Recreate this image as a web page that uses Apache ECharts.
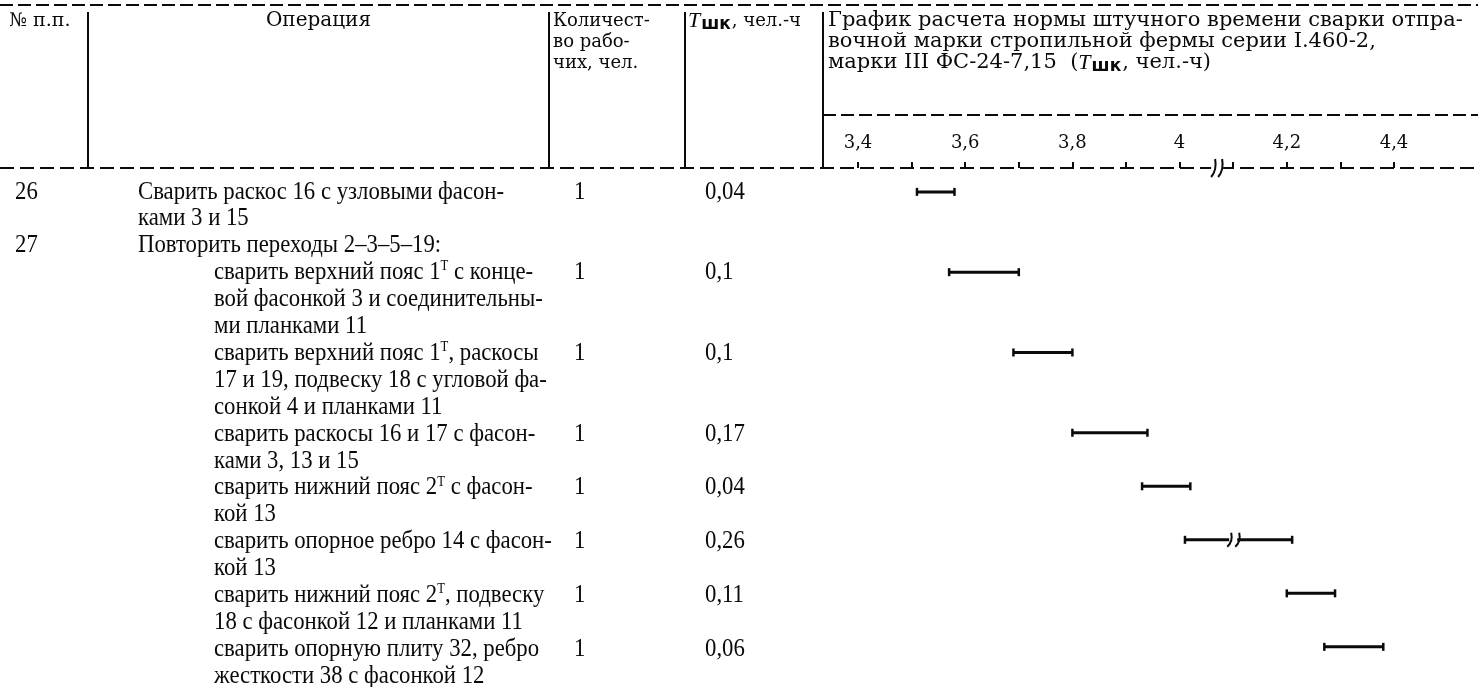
<!DOCTYPE html>
<html>
<head>
<meta charset="utf-8">
<style>
	html, body { margin: 0; padding: 0; background: #fff; }
	#chart { width: 1478px; height: 687px; }
</style>
</head>
<body>
<div id="chart"></div>
<script src="https://cdn.jsdelivr.net/npm/echarts@6.0.0/dist/echarts.min.js"></script>
<script>
// ---- data ----
const xTicks = [3.4, 3.6, 3.8, 4.0, 4.2, 4.4]

const headNo = '№ п.п.'
const headOp = 'Операция'
const headWorkers = ['Количест-', 'во рабо-', 'чих, чел.']
const headT = '{i|T}{sub|шк}, чел.-ч'
const titleLines = [
	'График расчета нормы штучного времени сварки отпра-',
	'вочной марки стропильной фермы серии I.460-2,',
	'марки III ФС-24-7,15  ({i|T}{sub|шк}, чел.-ч)'
]

// one entry per printed line of the table
const lineNo = ['26', '', '27', '', '', '', '', '', '', '', '', '', '', '', '', '', '', '', '']
const lineLevel = [0, 0, 0, 1, 1, 1, 1, 1, 1, 1, 1, 1, 1, 1, 1, 1, 1, 1, 1]
const lineText = [
	'Сварить раскос 16 с узловыми фасон-',
	'ками 3 и 15',
	'Повторить переходы 2–3–5–19:',
	'сварить верхний пояс 1{s|Т} с конце-',
	'вой фасонкой 3 и соединительны-',
	'ми планками 11',
	'сварить верхний пояс 1{s|Т}, раскосы',
	'17 и 19, подвеску 18 с угловой фа-',
	'сонкой 4 и планками 11',
	'сварить раскосы 16 и 17 с фасон-',
	'ками 3, 13 и 15',
	'сварить нижний пояс 2{s|Т} с фасон-',
	'кой 13',
	'сварить опорное ребро 14 с фасон-',
	'кой 13',
	'сварить нижний пояс 2{s|Т}, подвеску',
	'18 с фасонкой 12 и планками 11',
	'сварить опорную плиту 32, ребро',
	'жесткости 38 с фасонкой 12'
]
const workers = ['1', '', '', '1', '', '', '1', '', '', '1', '', '1', '', '1', '', '1', '', '1', '']
const normT = ['0,04', '', '', '0,1', '', '', '0,1', '', '', '0,17', '', '0,04', '', '0,26', '', '0,11', '', '0,06', '']

// schedule segments
const segLine = [0, 3, 6, 9, 11, 13, 15, 17]
const segStart = [3.51, 3.57, 3.69, 3.80, 3.93, 4.01, 4.20, 4.27]
const segEnd = [3.58, 3.70, 3.80, 3.94, 4.02, 4.21, 4.29, 4.38]
const segBreak = [null, null, null, null, null, 4.10, null, null]
const axisBreakAt = [4.07]

// ---- layout ----
const W = 1478
const ROW_TOP = 178.5
const ROW_H = 26.9
const AXIS_Y = 168
const INK = '#0a0a0a'
const BODY_FONT = 'Liberation Serif'
const HEAD_FONT = 'DejaVu Serif'
const BODY_SIZE = 25
const BODY_SQUEEZE = 0.91
const X_NO = 15, X_MAIN = 138, X_SUB = 214, X_WORK = 574, X_T = 705
const COLS = [88, 549, 685, 823]

const graphics = []

function hLine(x1, x2, y, dash) {
	graphics.push({
		type: 'line', silent: true,
		shape: { x1: x1, y1: y, x2: x2, y2: y },
		style: { stroke: INK, lineWidth: 2, lineDash: dash }
	})
}
function text(str, x, y, size, family, extra, squeeze) {
	graphics.push({
		type: 'text', silent: true,
		x: x, y: y, scaleX: squeeze || 1,
		style: Object.assign({
			text: str, x: 0, y: 0,
			fontSize: size, fontFamily: family, fill: INK,
			align: 'left', verticalAlign: 'middle',
			textAlign: 'left', textVerticalAlign: 'middle'
		}, extra || {})
	})
}

const headRich = {
	i: { fontSize: 22, fontStyle: 'italic', fontFamily: BODY_FONT, fill: INK },
	sub: { fontSize: 17, fontWeight: 'bold', fontFamily: 'DejaVu Sans', fill: INK, verticalAlign: 'bottom', lineHeight: 18, padding: [13, 1, 0, 1] }
}
const bodyRich = {
	s: { fontSize: 14, fontFamily: BODY_FONT, fill: INK, verticalAlign: 'top', lineHeight: 14 }
}

// table frame
hLine(0, W, 5, [13, 5])
hLine(COLS[3], W, 115, [13, 5])
hLine(0, W, AXIS_Y, [14, 6])
COLS.forEach(function (x) {
	graphics.push({
		type: 'line', silent: true,
		shape: { x1: x, y1: 12, x2: x, y2: AXIS_Y },
		style: { stroke: INK, lineWidth: 2 }
	})
})

// header
text(headNo, 9, 21, 19, HEAD_FONT)
text(headOp, (COLS[0] + COLS[1]) / 2, 21, 20, HEAD_FONT, { align: 'center', textAlign: 'center' })
headWorkers.forEach(function (s, i) { text(s, COLS[1] + 4, 21 + i * 21, 18, HEAD_FONT) })
text(headT, COLS[2] + 3, 21, 18, HEAD_FONT, { rich: headRich, lineHeight: 24 })
titleLines.forEach(function (s, i) { text(s, COLS[3] + 5, 21 + i * 21, 21, HEAD_FONT, { rich: headRich, lineHeight: 24 }) })

// body
lineText.forEach(function (s, i) {
	const y = ROW_TOP + (i + 0.5) * ROW_H
	if (lineNo[i]) text(lineNo[i], X_NO, y, BODY_SIZE, BODY_FONT, null, BODY_SQUEEZE)
	text(s, lineLevel[i] ? X_SUB : X_MAIN, y, BODY_SIZE, BODY_FONT, { rich: bodyRich, lineHeight: 26 }, BODY_SQUEEZE)
	if (workers[i]) text(workers[i], X_WORK, y, BODY_SIZE, BODY_FONT, null, BODY_SQUEEZE)
	if (normT[i]) text(normT[i], X_T, y, BODY_SIZE, BODY_FONT, null, BODY_SQUEEZE)
})

const segData = segLine.map(function (line, i) { return [segStart[i], segEnd[i], line] })
const lineCats = lineText.map(function (s, i) { return i })

function renderSeg(params, api) {
	const p1 = api.coord([api.value(0), api.value(2)])
	const p2 = api.coord([api.value(1), api.value(2)])
	const y = p1[1]
	const brk = segBreak[params.dataIndex]
	const children = []
	const bar = { stroke: INK, lineWidth: 3 }
	if (brk == null) {
		children.push({ type: 'line', shape: { x1: p1[0], y1: y, x2: p2[0], y2: y }, style: bar })
	} else {
		const xb = api.coord([brk, api.value(2)])[0]
		children.push({ type: 'line', shape: { x1: p1[0], y1: y, x2: xb - 4, y2: y }, style: bar })
		children.push({ type: 'line', shape: { x1: xb + 4, y1: y, x2: p2[0], y2: y }, style: bar })
		children.push({ type: 'bezierCurve', shape: { x1: xb - 6, y1: y + 7, x2: xb - 2, y2: y - 7, cpx1: xb, cpy1: y + 2 }, style: { stroke: INK, lineWidth: 2, fill: null } })
		children.push({ type: 'bezierCurve', shape: { x1: xb + 2, y1: y + 7, x2: xb + 6, y2: y - 7, cpx1: xb + 8, cpy1: y + 2 }, style: { stroke: INK, lineWidth: 2, fill: null } })
	}
	children.push({ type: 'line', shape: { x1: p1[0], y1: y - 4, x2: p1[0], y2: y + 4 }, style: { stroke: INK, lineWidth: 2.5 } })
	children.push({ type: 'line', shape: { x1: p2[0], y1: y - 4, x2: p2[0], y2: y + 4 }, style: { stroke: INK, lineWidth: 2.5 } })
	return { type: 'group', children: children }
}

function renderAxisBreak(params, api) {
	const x = api.coord([api.value(0), 0])[0]
	const y = AXIS_Y
	return {
		type: 'group', children: [
			{ type: 'rect', shape: { x: x - 6, y: y - 2, width: 12, height: 4 }, style: { fill: '#fff' } },
			{ type: 'bezierCurve', shape: { x1: x - 6, y1: y + 9, x2: x - 2, y2: y - 9, cpx1: x, cpy1: y + 2 }, style: { stroke: INK, lineWidth: 2, fill: null } },
			{ type: 'bezierCurve', shape: { x1: x + 1, y1: y + 9, x2: x + 5, y2: y - 9, cpx1: x + 7, cpy1: y + 2 }, style: { stroke: INK, lineWidth: 2, fill: null } }
		]
	}
}

const chart = echarts.init(document.getElementById('chart'))
chart.setOption({
	backgroundColor: '#fff',
	animation: false,
	grid: { left: 858, width: 536, top: ROW_TOP, height: ROW_H * lineText.length },
	xAxis: {
		type: 'value', position: 'top', offset: ROW_TOP - AXIS_Y,
		min: xTicks[0], max: xTicks[xTicks.length - 1], interval: 0.2,
		axisLine: { show: false },
		axisTick: { show: true, length: 6, lineStyle: { color: INK, width: 2 } },
		minorTick: { show: true, splitNumber: 2, length: 6, lineStyle: { color: INK, width: 2 } },
		splitLine: { show: false },
		minorSplitLine: { show: false },
		axisLabel: {
			margin: 16, color: INK, fontFamily: HEAD_FONT, fontSize: 18,
			formatter: function (v) { return String(+v.toFixed(1)).replace('.', ',') }
		}
	},
	yAxis: {
		type: 'category', inverse: true, data: lineCats, show: false
	},
	series: [
		{ type: 'custom', renderItem: renderSeg, data: segData, silent: true },
		{ type: 'custom', renderItem: renderAxisBreak, data: axisBreakAt.map(function (v) { return [v, 0] }), silent: true, z: 5 }
	],
	graphic: graphics
})
</script>
</body>
</html>
